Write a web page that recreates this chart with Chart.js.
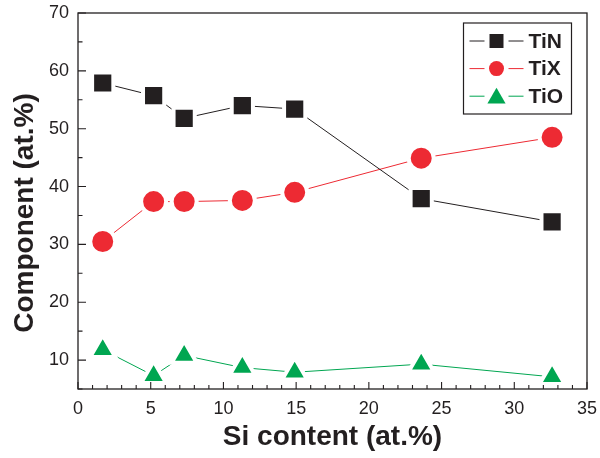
<!DOCTYPE html>
<html>
<head>
<meta charset="utf-8">
<script src="https://cdn.jsdelivr.net/npm/chart.js@4/dist/chart.umd.min.js"></script>
<style>
  html, body { margin: 0; padding: 0; background: #ffffff; }
  #wrap { width: 600px; height: 458px; position: relative; }
</style>
</head>
<body>
<div id="wrap"><canvas id="c" width="600" height="458"></canvas></div>
<script>
// ---- data ----
const siContent = [1.7, 5.2, 7.3, 11.3, 14.9, 23.6, 32.6];
const tiN = [57.9, 55.7, 51.8, 54.0, 53.4, 37.9, 33.9];
const tiX = [30.5, 37.4, 37.4, 37.6, 39.0, 44.9, 48.5];
const tiO = [11.8, 7.3, 10.8, 8.7, 7.9, 9.3, 7.1];
const seriesNames = ['TiN', 'TiX', 'TiO'];
const xTickValues = [0, 5, 10, 15, 20, 25, 30, 35];
const yTickValues = [10, 20, 30, 40, 50, 60, 70];
const xTitle = 'Si content (at.%)';
const yTitle = 'Component (at.%)';

const FONT = '"Liberation Sans", Arial, Helvetica, sans-serif';
const INK = '#231f20';
const COLORS = ['#231f20', '#ed2a33', '#00a651'];
const SHAPES = ['rect', 'circle', 'triangle'];
const RADII = [15, 12.5, 14.5];

function pts(ys) { return siContent.map((x, i) => ({ x: x, y: ys[i] })); }

const datasets = [tiN, tiX, tiO].map((ys, k) => ({
  label: seriesNames[k],
  data: pts(ys),
  borderColor: COLORS[k],
  backgroundColor: COLORS[k],
  borderWidth: 1,
  pointStyle: SHAPES[k],
  pointRadius: RADII[k],
  pointHoverRadius: RADII[k],
  pointBackgroundColor: COLORS[k],
  pointBorderColor: '#ffffff',
  pointBorderWidth: 4,
  tension: 0
}));

function drawMarker(ctx, shape, x, y, r, color) {
  ctx.save();
  ctx.fillStyle = color;
  ctx.beginPath();
  if (shape === 'rect') {
    const s = r;
    ctx.rect(x - s, y - s, 2 * s, 2 * s);
  } else if (shape === 'circle') {
    ctx.arc(x, y, r, 0, Math.PI * 2);
  } else {
    ctx.moveTo(x, y - r);
    ctx.lineTo(x + r * Math.sin(Math.PI * 2 / 3), y + r / 2);
    ctx.lineTo(x - r * Math.sin(Math.PI * 2 / 3), y + r / 2);
    ctx.closePath();
  }
  ctx.fill();
  ctx.restore();
}

function noPadding(s) {
  s.paddingTop = 0; s.paddingBottom = 0; s.paddingLeft = 0; s.paddingRight = 0;
  if (s._margins) { s._margins.top = 0; s._margins.bottom = 0; s._margins.left = 0; s._margins.right = 0; }
  s.getPadding = function () { return { left: 0, top: 0, right: 0, bottom: 0 }; };
}

const decor = {
  id: 'decor',
  afterDatasetsDraw(chart) {
    const ctx = chart.ctx;
    const a = chart.chartArea;
    const xs = chart.scales.x, ys = chart.scales.y;
    ctx.save();
    // frame
    ctx.strokeStyle = INK;
    ctx.lineWidth = 1.3;
    ctx.strokeRect(a.left, a.top, a.right - a.left, a.bottom - a.top);
    // inward ticks
    ctx.lineWidth = 1.1;
    ctx.beginPath();
    for (let v = xs.min; v <= xs.max + 1e-9; v += 1) {
      const px = xs.getPixelForValue(v);
      const len = (Math.round(v) % 5 === 0) ? 7 : 4;
      ctx.moveTo(px, a.bottom);
      ctx.lineTo(px, a.bottom - len);
    }
    for (let v = ys.min; v <= ys.max + 1e-9; v += 5) {
      const py = ys.getPixelForValue(v);
      const len = (Math.round(v) % 10 === 0) ? 8 : 4.5;
      ctx.moveTo(a.left, py);
      ctx.lineTo(a.left + len, py);
    }
    ctx.stroke();

    // y axis title
    ctx.save();
    ctx.fillStyle = INK;
    ctx.font = 'bold 28px ' + FONT;
    ctx.textAlign = 'center';
    ctx.textBaseline = 'middle';
    ctx.translate(25, (a.top + a.bottom) / 2 + 12);
    ctx.rotate(-Math.PI / 2);
    ctx.fillText(yTitle, 0, 0);
    ctx.restore();

    // legend
    const bx = a.right - 123.5, by = a.top + 10, bw = 108, bh = 91;
    ctx.fillStyle = '#ffffff';
    ctx.fillRect(bx, by, bw, bh);
    ctx.strokeStyle = INK;
    ctx.lineWidth = 1.2;
    ctx.strokeRect(bx, by, bw, bh);
    const legR = [7, 7.5, 10.5];
    chart.data.datasets.forEach((ds, k) => {
      const ry = by + 18 + k * 27.6;
      ctx.strokeStyle = ds.borderColor;
      ctx.lineWidth = 1;
      ctx.beginPath();
      ctx.moveTo(bx + 6, ry);
      ctx.lineTo(bx + 60, ry);
      ctx.stroke();
      ctx.fillStyle = '#ffffff';
      ctx.fillRect(bx + 21, ry - 12, 24, 24);
      drawMarker(ctx, SHAPES[k], bx + 33, k === 2 ? ry + 2 : ry, legR[k], ds.backgroundColor);
      ctx.fillStyle = INK;
      ctx.font = 'bold 21px ' + FONT;
      ctx.textAlign = 'left';
      ctx.textBaseline = 'middle';
      ctx.fillText(ds.label, bx + 65, ry + 1);
    });
    ctx.restore();
  }
};

new Chart(document.getElementById('c'), {
  type: 'line',
  data: { datasets: datasets },
  options: {
    responsive: false,
    animation: false,
    layout: { autoPadding: false, padding: { left: 0, right: 13, top: 13, bottom: 0 } },
    plugins: { legend: { display: false }, tooltip: { enabled: false } },
    scales: {
      x: {
        type: 'linear',
        min: 0, max: 35,
        afterBuildTicks: s => { s.ticks = xTickValues.map(v => ({ value: v })); },
        afterFit: s => { s.height = 69; noPadding(s); },
        grid: { display: false, drawTicks: false },
        border: { display: false },
        ticks: { color: INK, font: { family: FONT, size: 18 }, padding: 9, maxRotation: 0 },
        title: { display: true, text: xTitle, color: INK, font: { family: FONT, size: 28, weight: 'bold' }, padding: { top: 0, bottom: 4 } }
      },
      y: {
        type: 'linear',
        min: 5, max: 70,
        afterBuildTicks: s => { s.ticks = yTickValues.map(v => ({ value: v })); },
        afterFit: s => { s.width = 78; noPadding(s); },
        grid: { display: false, drawTicks: false },
        border: { display: false },
        ticks: { color: INK, font: { family: FONT, size: 18 }, padding: 9 }
      }
    }
  },
  plugins: [decor]
});
</script>
</body>
</html>
